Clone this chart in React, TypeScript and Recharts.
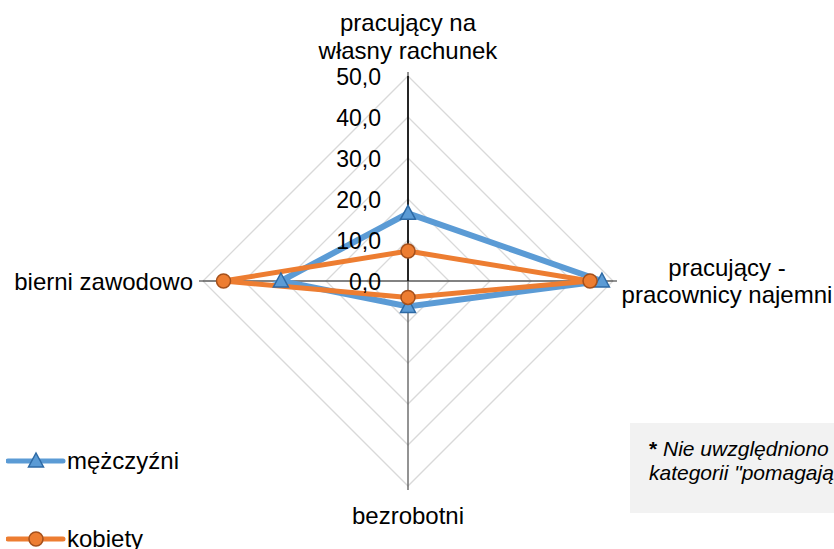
import { RadarChart, Radar, PolarGrid, PolarAngleAxis, PolarRadiusAxis, Legend } from 'recharts';

const categories = [
  'pracujący na własny rachunek',
  'pracujący - pracownicy najemni',
  'bezrobotni',
  'bierni zawodowo',
];
const categoryLines = [
  ['pracujący na', 'własny rachunek'],
  ['pracujący -', 'pracownicy najemni'],
  ['bezrobotni'],
  ['bierni zawodowo'],
];
const men = [16.5, 47.3, 6.2, 31.0];
const women = [7.3, 44.4, 4.0, 45.0];
const seriesNames = ['mężczyźni', 'kobiety'];
const noteLines = ['* Nie uwzględniono', 'kategorii "pomagający członkowie rodzin"'];

const data = categories.map((c, i) => ({ category: c, men: men[i], women: women[i] }));

const FONT = '"Liberation Sans", Arial, sans-serif';
const BLUE = '#5B9BD5';
const BLUE_DARK = '#2E6AA5';
const ORANGE = '#ED7D31';
const ORANGE_DARK = '#A5501B';

const fmt = (v: number) => v.toFixed(1).replace('.', ',');

// per-category label placement relative to the tick end point
const labelPos = [
  { dx: 0, dys: [-41, -13], anchor: 'middle' },
  { dx: 110, dys: [-5, 22], anchor: 'middle' },
  { dx: 0, dys: [34], anchor: 'middle' },
  { dx: -6, dys: [9], anchor: 'end' },
];

const AngleTick = (props: any) => {
  const { x, y, payload } = props;
  const i = categories.indexOf(payload.value);
  const pos = labelPos[i];
  return (
    <g>
      {categoryLines[i].map((line, k) => (
        <text
          key={k}
          x={x + pos.dx}
          y={y + pos.dys[k]}
          textAnchor={pos.anchor}
          fontSize={24}
          fontFamily={FONT}
          fill="#000"
        >
          {line}
        </text>
      ))}
    </g>
  );
};

const RadiusTick = (props: any) => {
  const { x, y, payload } = props;
  return (
    <text x={x - 27} y={y + 9} textAnchor="end" fontSize={23} fontFamily={FONT} fill="#000">
      {fmt(payload.value)}
    </text>
  );
};

const Triangle = (p: any) => {
  const { cx, cy } = p;
  return (
    <path
      key={`tri-${p.index}`}
      d={`M${cx},${cy - 8} L${cx + 7.5},${cy + 6} L${cx - 7.5},${cy + 6} Z`}
      fill={BLUE}
      stroke={BLUE_DARK}
      strokeWidth={1.5}
    />
  );
};

const Dot = (p: any) => (
  <circle key={`dot-${p.index}`} cx={p.cx} cy={p.cy} r={7} fill={ORANGE} stroke={ORANGE_DARK} strokeWidth={1.5} />
);

const LegendContent = () => (
  <div style={{ fontFamily: FONT, fontSize: 24, color: '#000' }}>
    {seriesNames.map((name, i) => (
      <div key={name} style={{ display: 'flex', alignItems: 'center', height: 28, marginBottom: i === 0 ? 50 : 0 }}>
        <svg width={60} height={20} style={{ marginLeft: 6 }}>
          <line x1={2} y1={10} x2={57} y2={10} stroke={i === 0 ? BLUE : ORANGE} strokeWidth={5} strokeLinecap="round" />
          {i === 0 ? (
            <path d="M30,2 L37.5,16 L22.5,16 Z" fill={BLUE} stroke={BLUE_DARK} strokeWidth={1.5} />
          ) : (
            <circle cx={30} cy={10} r={7} fill={ORANGE} stroke={ORANGE_DARK} strokeWidth={1.5} />
          )}
        </svg>
        <span style={{ marginLeft: 1 }}>{name}</span>
      </div>
    ))}
  </div>
);

export default function App() {
  return (
    <div style={{ position: 'absolute', left: 0, top: 0, width: 834, height: 549, overflow: 'hidden', background: '#fff' }}>
      <RadarChart
        width={834}
        height={549}
        data={data}
        cx={408}
        cy={281}
        outerRadius={205}
        margin={{ top: 0, right: 0, bottom: 0, left: 0 }}
      >
        <PolarGrid gridType="polygon" stroke="#d9d9d9" strokeWidth={1.3} radialLines={false} />
        <PolarGrid gridType="polygon" polarRadius={[0]} stroke="#595959" strokeWidth={1.3} />
        <PolarAngleAxis
          dataKey="category"
          axisLine={false}
          tickLine={{ stroke: '#595959', strokeWidth: 1.3 }}
          tickSize={4}
          tick={<AngleTick />}
        />
        <PolarRadiusAxis
          angle={90}
          domain={[0, 50]}
          tickCount={6}
          axisLine={{ stroke: '#000', strokeWidth: 1.5 }}
          tickLine={false}
          tick={<RadiusTick />}
        />
        <Radar
          name={seriesNames[0]}
          dataKey="men"
          stroke={BLUE}
          strokeWidth={6}
          fill="none"
          fillOpacity={0}
          dot={Triangle}
          isAnimationActive={false}
        />
        <Radar
          name={seriesNames[1]}
          dataKey="women"
          stroke={ORANGE}
          strokeWidth={5}
          fill="none"
          fillOpacity={0}
          dot={Dot}
          isAnimationActive={false}
        />
        <Legend content={<LegendContent />} wrapperStyle={{ left: 0, top: 447, width: 260 }} />
      </RadarChart>
      <div
        style={{
          position: 'absolute',
          left: 630,
          top: 423,
          width: 260,
          height: 90,
          background: '#F2F2F2',
          fontFamily: FONT,
          fontSize: 21,
          fontStyle: 'italic',
          lineHeight: '24px',
          whiteSpace: 'nowrap',
          boxSizing: 'border-box',
          paddingLeft: 19,
          paddingTop: 14,
        }}
      >
        {noteLines.map((l, i) => (
          <div key={i}>
            {i === 0 ? (
              <>
                <span style={{ fontStyle: 'normal', fontWeight: 'bold' }}>*</span>
                {l.slice(1)}
              </>
            ) : (
              l
            )}
          </div>
        ))}
      </div>
    </div>
  );
}
